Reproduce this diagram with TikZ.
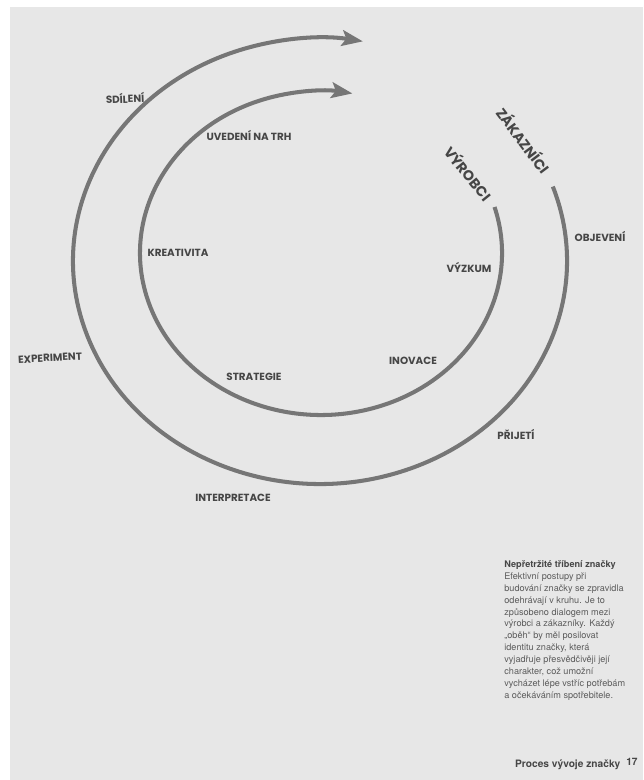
\documentclass[tikz,border=0pt]{standalone}
\usepackage{fontspec}
\setmainfont{TeX Gyre Heros}
\newfontfamily\stagefamily{Poppins}
\usetikzlibrary{positioning,arrows.meta,calc}

\definecolor{pagegray}{RGB}{231,231,231}
\definecolor{arcgray}{RGB}{118,118,118}
\definecolor{labelink}{RGB}{70,70,70}
\definecolor{bodyink}{RGB}{92,92,92}

\newcommand\stagefont{\stagefamily\bfseries\fontsize{5.9}{6.5}\selectfont}
\newcommand\sidefont{\stagefamily\bfseries\fontsize{8.1}{9}\selectfont}

\tikzset{
  spiral/.style={draw=arcgray, line width=2.3pt,
    -{Stealth[length=12pt, width=9pt, inset=2.5pt]}},
  stagelabel/.style={font=\stagefont, text=labelink, inner sep=0pt},
  sidelabel/.style={font=\sidefont, text=labelink, inner sep=0pt},
}

\begin{document}
\begin{tikzpicture}[x=0.02cm, y=-0.02cm]
      % Define the page
      \useasboundingbox (0,0) rectangle (643,780);
      \fill[white] (0,0) rectangle (643,780);
      \fill[pagegray] (10,7) rectangle (643,780);

      % Define the centres and the starts of the two loops
      \coordinate (zakc) at (320,261);
      \coordinate (vyrc) at (321,253);
      \coordinate (zakstart) at ($(zakc)+(-19.5:247 and 223)$);
      \coordinate (vyrstart) at ($(vyrc)+(-16.5:181 and 162)$);

      % Draw the two loops
      \draw[spiral] (zakstart) arc[start angle=-19.5, end angle=280, x radius=247, y radius=223];
      \draw[spiral] (vyrstart) arc[start angle=-16.5, end angle=280, x radius=181, y radius=162];

      % Define the names of the loops in their gaps
      \node[sidelabel, rotate=-53] (zakaznici) at (524,140) {ZÁKAZNÍCI};
      \node[sidelabel, rotate=-51] (vyrobci) at (469,173) {VÝROBCI};

      % Define the nodes of the outer loop
      \node[stagelabel] (objeveni) at (600,236) {OBJEVENÍ};
      \node[stagelabel] (prijeti) at (516,434) {PŘIJETÍ};
      \node[stagelabel] (interpretace) at (233,498) {INTERPRETACE};
      \node[stagelabel, rotate=3] (experiment) at (50,358) {EXPERIMENT};
      \node[stagelabel, rotate=2] (sdileni) at (125,98) {SDÍLENÍ};

      % Define the nodes of the inner loop
      \node[stagelabel] (vyzkum) at (469,267) {VÝZKUM};
      \node[stagelabel] (inovace) at (413,361) {INOVACE};
      \node[stagelabel] (strategie) at (254,377) {STRATEGIE};
      \node[stagelabel] (kreativita) at (178,253) {KREATIVITA};
      \node[stagelabel] (uvedeni) at (249,135) {UVEDENÍ NA TRH};

      % Define the caption and the page foot
      \node[anchor=north west, align=left, inner sep=0pt, text=bodyink,
            font=\fontsize{5.2}{6.8}\selectfont] (popis) at (504,560)
        {{\bfseries\color{labelink}Nepřetržité tříbení značky}\\
         Efektivní postupy při\\
         budování značky se zpravidla\\
         odehrávají v kruhu. Je to\\
         způsobeno dialogem mezi\\
         výrobci a zákazníky. Každý\\
         „oběh“ by měl posilovat\\
         identitu značky, která\\
         vyjadřuje přesvědčivěji její\\
         charakter, což umožní\\
         vycházet lépe vstříc potřebám\\
         a očekáváním spotřebitele.};
      \node[anchor=base east, inner sep=0pt, text=labelink,
            font=\bfseries\fontsize{5.8}{7}\selectfont] (strana) at (638,765) {17};
      \node[anchor=base east, inner sep=0pt, text=labelink,
            font=\bfseries\fontsize{5.8}{7}\selectfont] (zapati) [left=3pt of strana.base west] {Proces vývoje značky};
\end{tikzpicture}
\end{document}
